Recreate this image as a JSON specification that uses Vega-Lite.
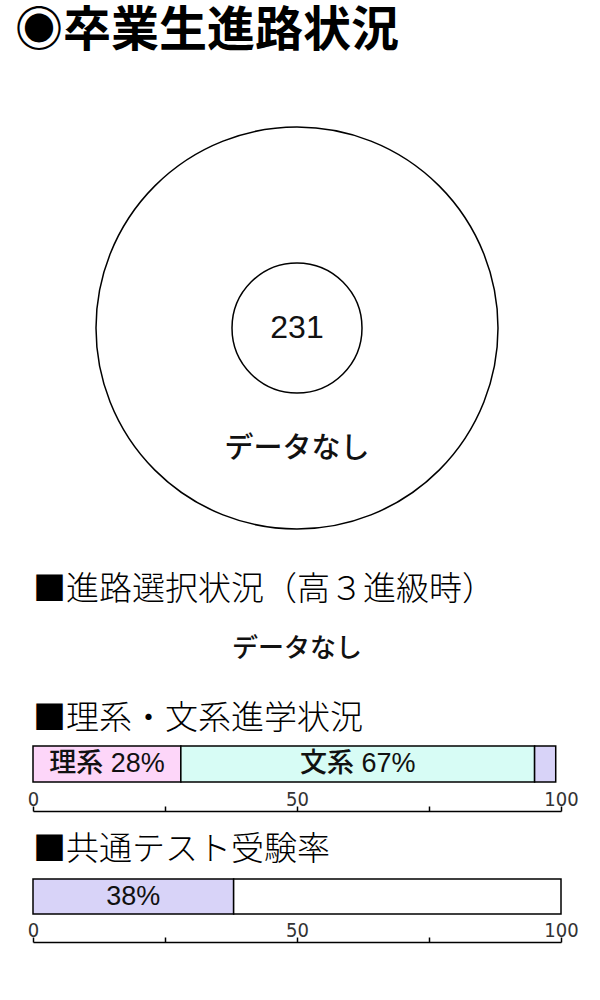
{
  "$schema": "https://vega.github.io/schema/vega-lite/v6.json",
  "padding": {"left": 15, "top": 8, "right": 5, "bottom": 5},
  "spacing": 22,
  "resolve": {"scale": {"color": "independent", "x": "independent", "y": "independent"}},
  "config": {
    "view": {"stroke": null},
    "title": {"anchor": "start", "frame": "group", "color": "#000000"}
  },
  "vconcat": [
    {
      "title": {"text": "◉卒業生進路状況", "fontSize": 48, "fontWeight": "bold", "font": "Noto Sans CJK JP", "dx": -18, "offset": 48},
      "width": 528,
      "height": 448,
      "layer": [
        {
          "data": {"values": [{"category": "卒業生", "count": 231}]},
          "mark": {"type": "arc", "outerRadius": 201, "innerRadius": 65, "fill": "#ffffff", "stroke": "#000000", "strokeWidth": 1.5},
          "encoding": {"theta": {"field": "count", "type": "quantitative"}}
        },
        {
          "data": {"values": [{"text": "231"}]},
          "mark": {"type": "text", "font": "Liberation Sans", "fontSize": 32, "baseline": "middle", "align": "center", "color": "#111111"},
          "encoding": {"text": {"field": "text"}}
        },
        {
          "data": {"values": [{"text": "データなし"}]},
          "mark": {"type": "text", "font": "Noto Sans CJK JP", "fontSize": 29, "fontWeight": 500, "baseline": "middle", "align": "center", "dy": 121, "color": "#111111"},
          "encoding": {"text": {"field": "text"}}
        }
      ]
    },
    {
      "title": {"text": "■進路選択状況（高３進級時）", "fontSize": 33, "fontWeight": 300, "font": "Noto Sans CJK JP", "offset": 10},
      "width": 528,
      "height": 64,
      "data": {"values": [{"text": "データなし"}]},
      "mark": {"type": "text", "font": "Noto Sans CJK JP", "fontSize": 26, "fontWeight": 500, "baseline": "middle", "align": "center", "color": "#111111"},
      "encoding": {"text": {"field": "text"}}
    },
    {
      "title": {"text": "■理系・文系進学状況", "fontSize": 33, "fontWeight": 300, "font": "Noto Sans CJK JP", "offset": 9},
      "width": 528,
      "height": 36,
      "data": {"values": [
        {"bar": "理系・文系", "cat": "理系", "pct": 28, "label": "理系 28%", "idx": 1},
        {"bar": "理系・文系", "cat": "文系", "pct": 67, "label": "文系 67%", "idx": 2},
        {"bar": "理系・文系", "cat": "その他", "pct": 4, "label": "", "idx": 3}
      ]},
      "encoding": {
        "y": {"field": "bar", "type": "nominal", "axis": null, "scale": {"paddingInner": 0, "paddingOuter": 0}}
      },
      "layer": [
        {
          "mark": {"type": "bar", "stroke": "#000000", "strokeWidth": 1.5},
          "encoding": {
            "x": {"field": "pct", "type": "quantitative", "stack": "zero", "scale": {"domain": [0, 100], "nice": false},
              "axis": {"orient": "top", "offset": -65, "values": [0, 25, 50, 75, 100], "labelExpr": "datum.value % 50 === 0 ? datum.label : ''", "title": null, "grid": false, "domainColor": "#000000", "domainWidth": 1.5, "tickColor": "#000000", "tickWidth": 1.5, "tickSize": 5, "labelFont": "'Liberation Sans Narrow', 'DejaVu Sans Condensed', sans-serif", "labelFontSize": 20, "labelColor": "#333333", "labelBaseline": "alphabetic", "labelPadding": 1, "labelFlush": false, "labelAngle": 0}},
            "color": {"field": "cat", "type": "nominal", "scale": {"domain": ["理系", "文系", "その他"], "range": ["#fdd6f9", "#d7fcf5", "#d8d3f8"]}, "legend": null},
            "order": {"field": "idx", "type": "quantitative"}
          }
        },
        {
          "mark": {"type": "text", "font": "'Liberation Sans', 'Noto Sans CJK JP'", "fontSize": 27, "fontWeight": 500, "baseline": "middle", "align": "center", "color": "#111111"},
          "encoding": {
            "x": {"field": "pct", "type": "quantitative", "stack": "zero", "bandPosition": 0.5, "scale": {"domain": [0, 100], "nice": false},
              "axis": {"orient": "top", "offset": -65, "values": [0, 25, 50, 75, 100], "labelExpr": "datum.value % 50 === 0 ? datum.label : ''", "title": null, "grid": false, "domainColor": "#000000", "domainWidth": 1.5, "tickColor": "#000000", "tickWidth": 1.5, "tickSize": 5, "labelFont": "'Liberation Sans Narrow', 'DejaVu Sans Condensed', sans-serif", "labelFontSize": 20, "labelColor": "#333333", "labelBaseline": "alphabetic", "labelPadding": 1, "labelFlush": false, "labelAngle": 0}},
            "detail": {"field": "cat"},
            "order": {"field": "idx", "type": "quantitative"},
            "text": {"field": "label"}
          }
        }
      ]
    },
    {
      "title": {"text": "■共通テスト受験率", "fontSize": 33, "fontWeight": 300, "font": "Noto Sans CJK JP", "offset": 11},
      "width": 528,
      "height": 35,
      "data": {"values": [
        {"bar": "共通テスト", "cat": "受験", "pct": 38, "label": "38%", "idx": 1},
        {"bar": "共通テスト", "cat": "未受験", "pct": 62, "label": "", "idx": 2}
      ]},
      "encoding": {
        "y": {"field": "bar", "type": "nominal", "axis": null, "scale": {"paddingInner": 0, "paddingOuter": 0}}
      },
      "layer": [
        {
          "mark": {"type": "bar", "stroke": "#000000", "strokeWidth": 1.5},
          "encoding": {
            "x": {"field": "pct", "type": "quantitative", "stack": "zero", "scale": {"domain": [0, 100], "nice": false},
              "axis": {"orient": "top", "offset": -63, "values": [0, 25, 50, 75, 100], "labelExpr": "datum.value % 50 === 0 ? datum.label : ''", "title": null, "grid": false, "domainColor": "#000000", "domainWidth": 1.5, "tickColor": "#000000", "tickWidth": 1.5, "tickSize": 5, "labelFont": "'Liberation Sans Narrow', 'DejaVu Sans Condensed', sans-serif", "labelFontSize": 20, "labelColor": "#333333", "labelBaseline": "alphabetic", "labelPadding": 1, "labelFlush": false, "labelAngle": 0}},
            "color": {"field": "cat", "type": "nominal", "scale": {"domain": ["受験", "未受験"], "range": ["#d8d3f8", "#ffffff"]}, "legend": null},
            "order": {"field": "idx", "type": "quantitative"}
          }
        },
        {
          "mark": {"type": "text", "font": "'Liberation Sans', 'Noto Sans CJK JP'", "fontSize": 27, "fontWeight": 500, "baseline": "middle", "align": "center", "color": "#111111"},
          "encoding": {
            "x": {"field": "pct", "type": "quantitative", "stack": "zero", "bandPosition": 0.5, "scale": {"domain": [0, 100], "nice": false},
              "axis": {"orient": "top", "offset": -63, "values": [0, 25, 50, 75, 100], "labelExpr": "datum.value % 50 === 0 ? datum.label : ''", "title": null, "grid": false, "domainColor": "#000000", "domainWidth": 1.5, "tickColor": "#000000", "tickWidth": 1.5, "tickSize": 5, "labelFont": "'Liberation Sans Narrow', 'DejaVu Sans Condensed', sans-serif", "labelFontSize": 20, "labelColor": "#333333", "labelBaseline": "alphabetic", "labelPadding": 1, "labelFlush": false, "labelAngle": 0}},
            "detail": {"field": "cat"},
            "order": {"field": "idx", "type": "quantitative"},
            "text": {"field": "label"}
          }
        }
      ]
    }
  ]
}
